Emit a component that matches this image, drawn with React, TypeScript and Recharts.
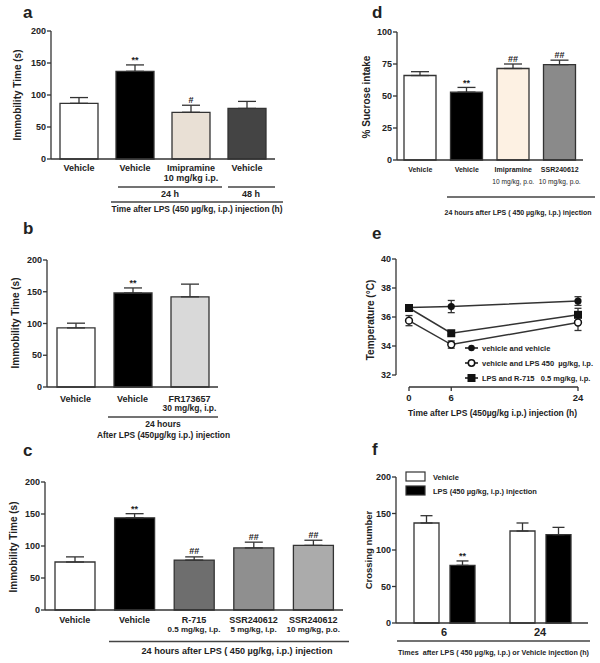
import { Bar, BarChart, Cell, ErrorBar, LabelList, Line, LineChart, XAxis, YAxis } from "recharts";

const FONT = "'Liberation Sans', Arial, Helvetica, sans-serif";
const INK = "#222";
const EDGE = "#333";

// a: immobility time, time course after LPS
const aGroups = ["Vehicle", "Vehicle", "Imipramine", "Vehicle"];
const aDoses = ["", "", "10 mg/kg i.p.", ""];
const aMeans = [87, 137, 73, 79];
const aSems = [9, 10, 11, 11];
const aSig = ["", "**", "#", ""];
const aTicks = [0, 50, 100, 150, 200];

// b: FR173657
const bGroups = ["Vehicle", "Vehicle", "FR173657"];
const bDoses = ["", "", "30 mg/kg, i.p."];
const bMeans = [93, 148, 142];
const bSems = [7.5, 8, 20];
const bSig = ["", "**", ""];
const bTicks = [0, 50, 100, 150, 200];

// c: R-715 / SSR240612
const cGroups = ["Vehicle", "Vehicle", "R-715", "SSR240612", "SSR240612"];
const cDoses = ["", "", "0.5 mg/kg, i.p.", "5 mg/kg, i.p.", "10 mg/kg, p.o."];
const cMeans = [75, 144, 78, 97, 101];
const cSems = [8, 6.5, 5, 9, 8];
const cSig = ["", "**", "##", "##", "##"];
const cTicks = [0, 50, 100, 150, 200];

// d: sucrose preference
const dGroups = ["Vehicle", "Vehicle", "Imipramine", "SSR240612"];
const dDoses = ["", "", "10 mg/kg, p.o.", "10 mg/kg, p.o."];
const dMeans = [66, 53, 71.5, 74.5];
const dSems = [3, 3.7, 3.5, 3.5];
const dSig = ["", "**", "##", "##"];
const dTicks = [0, 25, 50, 75, 100];

// e: body temperature
const eHours = [0, 6, 24];
const eVehVeh = [36.65, 36.72, 37.1];
const eVehVehSem = [0.1, 0.42, 0.3];
const eVehLps = [35.75, 34.1, 35.62];
const eVehLpsSem = [0.35, 0.25, 0.55];
const eLpsR715 = [36.62, 34.88, 36.15];
const eLpsR715Sem = [0.1, 0.1, 0.45];
const eTempTicks = [32, 34, 36, 38, 40];

// f: locomotor activity
const fTimes = ["6", "24"];
const fVehicle = [137, 126];
const fVehicleSem = [10, 11];
const fLps = [79, 121];
const fLpsSem = [6, 10];
const fLpsSig = ["**", ""];
const fTicks = [0, 50, 100, 150, 200];

// bar colours
const aFills = ["#ffffff", "#000000", "#e9e0d5", "#444444"];
const bFills = ["#ffffff", "#000000", "#d9d9d9"];
const cFills = ["#ffffff", "#000000", "#6e6e6e", "#8f8f8f", "#ababab"];
const dFills = ["#ffffff", "#000000", "#fdf1e3", "#8a8a8a"];

type Box = {
  left: number; top: number; width: number; height: number;
  mt: number; mr: number; mb: number; ml: number; yWidth: number; xHeight: number;
};
type TickCfg = { f1: number; f2: number; dy1: number; dy2: number; bold2: boolean };

const yTick = { fontSize: 9, fontWeight: 700, fill: INK, fontFamily: FONT };

function sigLabel(sems: number[], ppu: number, size: number) {
  return (p: any) => {
    const m = p.value;
    if (!m) return null;
    const top = p.y - sems[p.index] * ppu;
    const off = String(m).startsWith("*") ? 1.5 : 2.5;
    return (
      <text x={p.x + p.width / 2} y={top - off} textAnchor="middle" fontSize={size} fontWeight={700} fill={INK} fontFamily={FONT}>
        {m}
      </text>
    );
  };
}

function BarPanel(props: {
  box: Box; groups: string[]; doses: string[]; means: number[]; sems: number[]; sig: string[];
  fills: string[]; max: number; ticks: number[]; cfg: TickCfg; barSize: number;
}) {
  const { box, groups, doses, means, sems, sig, fills, max, ticks, cfg, barSize } = props;
  const data = groups.map((g, i) => ({ key: String(i), mean: means[i], err: [0, sems[i]], sig: sig[i] }));
  const ppu = (box.height - box.mt - box.mb - box.xHeight) / max;
  const tick = (p: any) => {
    const i = Number(p.payload.value);
    return (
      <g>
        <text x={p.x} y={p.y + cfg.dy1} textAnchor="middle" fontSize={cfg.f1} fontWeight={700} fill={INK} fontFamily={FONT}>
          {groups[i]}
        </text>
        {doses[i] ? (
          <text x={p.x} y={p.y + cfg.dy2} textAnchor="middle" fontSize={cfg.f2} fontWeight={cfg.bold2 ? 700 : 400} fill={INK} fontFamily={FONT}>
            {doses[i]}
          </text>
        ) : null}
      </g>
    );
  };
  return (
    <div style={{ position: "absolute", left: box.left, top: box.top }}>
      <BarChart
        width={box.width}
        height={box.height}
        data={data}
        barSize={barSize}
        margin={{ top: box.mt, right: box.mr, bottom: box.mb, left: box.ml }}
      >
        <XAxis dataKey="key" height={box.xHeight} interval={0} tickLine={false} tickSize={0} tickMargin={0} axisLine={{ stroke: EDGE, strokeWidth: 1.3 }} tick={tick} />
        <YAxis width={box.yWidth} domain={[0, max]} ticks={ticks} tickSize={4} tickMargin={1} axisLine={{ stroke: EDGE, strokeWidth: 1.3 }} tickLine={{ stroke: EDGE, strokeWidth: 1.3 }} tick={yTick} />
        <Bar dataKey="mean" isAnimationActive={false} stroke={EDGE} strokeWidth={1.3}>
          {data.map((d, i) => (
            <Cell key={d.key} fill={fills[i]} />
          ))}
          <ErrorBar dataKey="err" direction="y" width={9} stroke={EDGE} strokeWidth={1.3} />
          <LabelList dataKey="sig" content={sigLabel(sems, ppu, 9)} />
        </Bar>
      </BarChart>
    </div>
  );
}

const dotFilled = (p: any) => <circle key={`vv${p.index}`} cx={p.cx} cy={p.cy} r={3.6} fill="#111" />;
const dotOpen = (p: any) => <circle key={`vl${p.index}`} cx={p.cx} cy={p.cy} r={3.4} fill="#fff" stroke="#111" strokeWidth={1.5} />;
const dotSquare = (p: any) => <rect key={`lr${p.index}`} x={p.cx - 4} y={p.cy - 4} width={8} height={8} fill="#111" />;

function TemperaturePanel() {
  const data = eHours.map((h, i) => ({
    h,
    vv: eVehVeh[i], vvErr: eVehVehSem[i],
    vl: eVehLps[i], vlErr: eVehLpsSem[i],
    lr: eLpsR715[i], lrErr: eLpsR715Sem[i],
  }));
  return (
    <div style={{ position: "absolute", left: 300, top: 220 }}>
      <LineChart width={300} height={200} data={data} margin={{ top: 39, right: 22, bottom: 8, left: 56 }}>
        <XAxis
          dataKey="h" type="number" domain={[0, 24]} ticks={eHours} padding={{ left: 13, right: 0 }} height={25}
          tickSize={4} tickMargin={3}
          axisLine={{ stroke: EDGE, strokeWidth: 1.3, strokeDasharray: "0 13 200" }}
          tickLine={{ stroke: EDGE, strokeWidth: 1.3 }}
          tick={{ fontSize: 9.5, fontWeight: 700, fill: INK, fontFamily: FONT }}
        />
        <YAxis
          width={40} domain={[32, 40]} ticks={eTempTicks} padding={{ top: 0, bottom: 12 }}
          tickSize={4} tickMargin={1}
          axisLine={{ stroke: EDGE, strokeWidth: 1.3, strokeDasharray: "116 200" }}
          tickLine={{ stroke: EDGE, strokeWidth: 1.3 }}
          tick={yTick}
        />
        <Line dataKey="vv" isAnimationActive={false} stroke={EDGE} strokeWidth={1.5} dot={dotFilled}>
          <ErrorBar dataKey="vvErr" direction="y" width={3.5} stroke={EDGE} strokeWidth={1.3} />
        </Line>
        <Line dataKey="vl" isAnimationActive={false} stroke={EDGE} strokeWidth={1.5} dot={dotOpen}>
          <ErrorBar dataKey="vlErr" direction="y" width={3.5} stroke={EDGE} strokeWidth={1.3} />
        </Line>
        <Line dataKey="lr" isAnimationActive={false} stroke={EDGE} strokeWidth={1.5} dot={dotSquare}>
          <ErrorBar dataKey="lrErr" direction="y" width={3.5} stroke={EDGE} strokeWidth={1.3} />
        </Line>
      </LineChart>
    </div>
  );
}

function CrossingPanel() {
  const data = fTimes.map((t, i) => ({
    t,
    veh: fVehicle[i], vehErr: [0, fVehicleSem[i]],
    lps: fLps[i], lpsErr: [0, fLpsSem[i]], sig: fLpsSig[i],
  }));
  const ppu = (243 - 57 - 18 - 22) / 200;
  return (
    <div style={{ position: "absolute", left: 300, top: 420 }}>
      <BarChart width={300} height={243} data={data} barSize={25} barGap={11} margin={{ top: 57, right: 12, bottom: 18, left: 56 }}>
        <XAxis dataKey="t" height={22} tickLine={false} tickSize={0} tickMargin={0} axisLine={{ stroke: EDGE, strokeWidth: 1.3 }}
          tick={(p: any) => (
            <text x={p.x} y={p.y + 13} textAnchor="middle" fontSize={11} fontWeight={700} fill={INK} fontFamily={FONT}>
              {p.payload.value}
            </text>
          )}
        />
        <YAxis width={40} domain={[0, 200]} ticks={fTicks} tickSize={4} tickMargin={1} axisLine={{ stroke: EDGE, strokeWidth: 1.3 }} tickLine={{ stroke: EDGE, strokeWidth: 1.3 }} tick={yTick} />
        <Bar dataKey="veh" isAnimationActive={false} fill="#fff" stroke={EDGE} strokeWidth={1.3}>
          <ErrorBar dataKey="vehErr" direction="y" width={6} stroke={EDGE} strokeWidth={1.3} />
        </Bar>
        <Bar dataKey="lps" isAnimationActive={false} fill="#000" stroke={EDGE} strokeWidth={1.3}>
          <ErrorBar dataKey="lpsErr" direction="y" width={6} stroke={EDGE} strokeWidth={1.3} />
          <LabelList dataKey="sig" content={sigLabel(fLpsSem, ppu, 9)} />
        </Bar>
      </BarChart>
    </div>
  );
}

// letters, axis titles, group brackets, legends
function Annotations() {
  const t = { fill: INK, fontFamily: FONT, fontWeight: 700 } as const;
  const line = { stroke: "#444", strokeWidth: 1.5 };
  const yl = (x: number, y: number, s: string, size = 10) => (
    <text x={x} y={y} transform={`rotate(-90 ${x} ${y})`} textAnchor="middle" fontSize={size} {...t}>{s}</text>
  );
  const legendE = [
    { label: "vehicle and vehicle", y: 348, mark: (x: number, y: number) => <circle cx={x} cy={y} r={3.3} fill="#111" /> },
    { label: "vehicle and LPS 450  µg/kg, i.p.", y: 363, mark: (x: number, y: number) => <circle cx={x} cy={y} r={3.2} fill="#fff" stroke="#111" strokeWidth={1.5} /> },
    { label: "LPS and R-715   0.5 mg/kg, i.p.", y: 378, mark: (x: number, y: number) => <rect x={x - 4} y={y - 4} width={8} height={8} fill="#111" /> },
  ];
  return (
    <svg width={600} height={663} style={{ position: "absolute", left: 0, top: 0, pointerEvents: "none" }}>
      {[["a", 23, 18], ["b", 23, 234], ["c", 23, 456], ["d", 372, 18], ["e", 372, 239], ["f", 372, 455]].map(([s, x, y]) => (
        <text key={s as string} x={x as number} y={y as number} fontSize={17} {...t}>{s}</text>
      ))}
      {yl(21, 95, "Immobility Time (s)")}
      {yl(19, 323, "Immobility Time (s)")}
      {yl(17, 547, "Immobility Time (s)")}
      {yl(370, 97, "% Sucrose intake")}
      {yl(374, 320, "Temperature (°C)")}
      {yl(372, 550, "Crossing number", 9.5)}

      {/* a */}
      <line x1={118} x2={222} y1={187} y2={187} {...line} />
      <line x1={228} x2={275} y1={187} y2={187} {...line} />
      <text x={170} y={196.5} textAnchor="middle" fontSize={9} {...t}>24 h</text>
      <text x={251} y={196.5} textAnchor="middle" fontSize={9} {...t}>48 h</text>
      <line x1={111} x2={283} y1={202} y2={202} {...line} />
      <text x={197} y={212} textAnchor="middle" fontSize={8.5} textLength={171} lengthAdjust="spacingAndGlyphs" {...t}>
        Time after LPS (450 µg/kg, i.p.) injection (h)
      </text>

      {/* b */}
      <line x1={108} x2={218} y1={417} y2={417} {...line} />
      <text x={163} y={426.5} textAnchor="middle" fontSize={8.5} {...t}>24 hours</text>
      <text x={163.5} y={438} textAnchor="middle" fontSize={8.5} textLength={133} lengthAdjust="spacingAndGlyphs" {...t}>
        After LPS (450µg/kg i.p.) injection
      </text>

      {/* c */}
      <line x1={109} x2={349} y1={641.5} y2={641.5} {...line} />
      <text x={237} y={653.5} textAnchor="middle" fontSize={9.5} textLength={191} lengthAdjust="spacingAndGlyphs" {...t}>
        24 hours after LPS ( 450 µg/kg, i.p.) injection
      </text>

      {/* d */}
      <line x1={447} x2={595} y1={197} y2={197} {...line} />
      <text x={518} y={215} textAnchor="middle" fontSize={7.3} textLength={147} lengthAdjust="spacingAndGlyphs" {...t}>
        24 hours after LPS ( 450 µg/kg, i.p.) injection
      </text>

      {/* e */}
      {legendE.map((r) => (
        <g key={r.label}>
          <line x1={465} x2={478} y1={r.y} y2={r.y} stroke="#111" strokeWidth={1.5} />
          {r.mark(471.5, r.y)}
          <text x={482} y={r.y + 2.5} fontSize={7.5} style={{ whiteSpace: "pre" }} {...t}>{r.label}</text>
        </g>
      ))}
      <text x={492.5} y={415.5} textAnchor="middle" fontSize={9} textLength={169} lengthAdjust="spacingAndGlyphs" {...t}>
        Time after LPS (450µg/kg i.p.) injection (h)
      </text>

      {/* f */}
      <rect x={406} y={472} width={19} height={9} fill="#fff" stroke={EDGE} strokeWidth={1.2} />
      <rect x={406} y={486} width={19} height={9} fill="#000" stroke={EDGE} strokeWidth={1.2} />
      <text x={433} y={480} fontSize={7.5} {...t}>Vehicle</text>
      <text x={433} y={494} fontSize={7.5} {...t}>LPS (450 µg/kg, i.p.) injection</text>
      <line x1={397} x2={590} y1={641} y2={641} {...line} />
      <text x={493.5} y={655} textAnchor="middle" fontSize={7.5} textLength={191} lengthAdjust="spacingAndGlyphs" style={{ whiteSpace: "pre" }} {...t}>
        Times  after LPS ( 450 µg/kg, i.p.) or Vehicle injection (h)
      </text>
    </svg>
  );
}

export default function App() {
  return (
    <div style={{ position: "absolute", left: 0, top: 0, width: 600, height: 663, background: "#fff", fontFamily: FONT, overflow: "hidden" }}>
      <BarPanel
        box={{ left: 0, top: 0, width: 300, height: 222, mt: 31, mr: 25, mb: 23, ml: 0, yWidth: 51, xHeight: 40 }}
        groups={aGroups} doses={aDoses} means={aMeans} sems={aSems} sig={aSig} fills={aFills}
        max={200} ticks={aTicks} barSize={38} cfg={{ f1: 9, f2: 9, dy1: 12, dy2: 21.5, bold2: true }}
      />
      <BarPanel
        box={{ left: 0, top: 222, width: 300, height: 200, mt: 38, mr: 82, mb: 5, ml: 0, yWidth: 47, xHeight: 30 }}
        groups={bGroups} doses={bDoses} means={bMeans} sems={bSems} sig={bSig} fills={bFills}
        max={200} ticks={bTicks} barSize={38} cfg={{ f1: 9, f2: 8.5, dy1: 15, dy2: 24, bold2: true }}
      />
      <BarPanel
        box={{ left: 0, top: 440, width: 360, height: 223, mt: 42, mr: 17, mb: 23, ml: 0, yWidth: 45, xHeight: 30 }}
        groups={cGroups} doses={cDoses} means={cMeans} sems={cSems} sig={cSig} fills={cFills}
        max={200} ticks={cTicks} barSize={40} cfg={{ f1: 9, f2: 8, dy1: 13, dy2: 22, bold2: true }}
      />
      <BarPanel
        box={{ left: 300, top: 0, width: 300, height: 222, mt: 32, mr: 17, mb: 32, ml: 57, yWidth: 40, xHeight: 30 }}
        groups={dGroups} doses={dDoses} means={dMeans} sems={dSems} sig={dSig} fills={dFills}
        max={100} ticks={dTicks} barSize={32} cfg={{ f1: 7, f2: 6.6, dy1: 11.5, dy2: 23.5, bold2: false }}
      />
      <TemperaturePanel />
      <CrossingPanel />
      <Annotations />
    </div>
  );
}
